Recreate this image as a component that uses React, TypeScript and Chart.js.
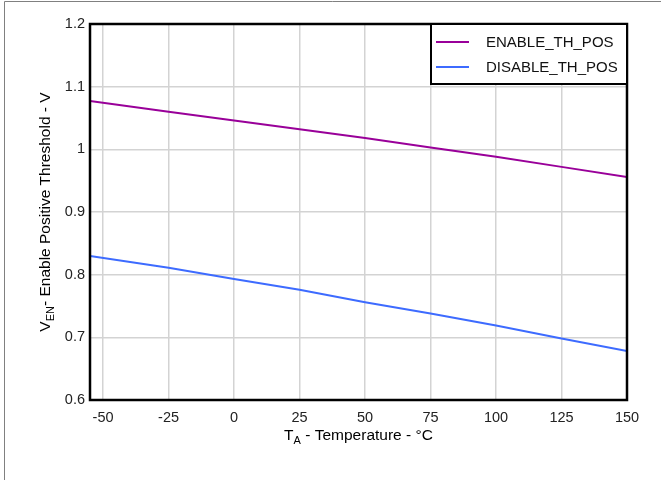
import React, { useEffect, useRef } from "react";
import { Chart, registerables } from "chart.js";

Chart.register(...registerables);

// Threshold voltage vs. ambient temperature
const temperatures = [-55, -25, 0, 25, 50, 75, 100, 125, 150];
const enableThPos = [1.077, 1.06, 1.046, 1.032, 1.018, 1.003, 0.988, 0.972, 0.956];
const disableThPos = [0.83, 0.811, 0.793, 0.776, 0.756, 0.738, 0.719, 0.698, 0.678];

const xTickValues = [-50, -25, 0, 25, 50, 75, 100, 125, 150];
const yTickValues = [0.6, 0.7, 0.8, 0.9, 1.0, 1.1, 1.2];

const seriesLabels = ["ENABLE_TH_POS", "DISABLE_TH_POS"];
const seriesColors = ["#990099", "#3d6bff"];

const FONT_FAMILY = "'Liberation Sans', Arial, sans-serif";

type Part = { text: string; sub?: boolean };

const xTitleParts: Part[] = [
  { text: "T" },
  { text: "A", sub: true },
  { text: " - Temperature - °C" },
];
const yTitleParts: Part[] = [
  { text: "V" },
  { text: "EN", sub: true },
  { text: "- Enable Positive Threshold - V" },
];

function drawRich(
  ctx: CanvasRenderingContext2D,
  parts: Part[],
  cx: number,
  baseline: number
) {
  const mainFont = `15.5px ${FONT_FAMILY}`;
  const subFont = `11px ${FONT_FAMILY}`;
  const widths = parts.map((p) => {
    ctx.font = p.sub ? subFont : mainFont;
    return ctx.measureText(p.text).width;
  });
  const total = widths.reduce((a, b) => a + b, 0);
  let x = cx - total / 2;
  ctx.textAlign = "left";
  ctx.textBaseline = "alphabetic";
  ctx.fillStyle = "#000";
  parts.forEach((p, i) => {
    ctx.font = p.sub ? subFont : mainFont;
    ctx.fillText(p.text, x, baseline + (p.sub ? 4 : 0));
    x += widths[i];
  });
}

const decorations = {
  id: "decorations",
  afterDraw(chart: Chart) {
    const ctx = chart.ctx;
    const area = chart.chartArea;
    ctx.save();

    // outer frame edges
    ctx.strokeStyle = "#808080";
    ctx.lineWidth = 1;
    ctx.beginPath();
    ctx.moveTo(4.5, chart.height);
    ctx.lineTo(4.5, 1.5);
    ctx.lineTo(chart.width, 1.5);
    ctx.stroke();

    // plot frame
    ctx.strokeStyle = "#000";
    ctx.lineWidth = 2.5;
    ctx.strokeRect(area.left, area.top, area.right - area.left, area.bottom - area.top);

    // legend box inside the plot, top right
    const boxW = 196;
    const boxH = 60;
    const bx = area.right - boxW;
    const by = area.top;
    ctx.fillStyle = "#fff";
    ctx.fillRect(bx, by, boxW, boxH);
    ctx.lineWidth = 2;
    ctx.strokeStyle = "#000";
    ctx.strokeRect(bx, by, boxW, boxH);
    chart.data.datasets.forEach((ds, i) => {
      const y = by + 18 + i * 25;
      ctx.strokeStyle = ds.borderColor as string;
      ctx.lineWidth = 2;
      ctx.beginPath();
      ctx.moveTo(bx + 5, y);
      ctx.lineTo(bx + 38, y);
      ctx.stroke();
      ctx.fillStyle = "#111";
      ctx.font = `15px ${FONT_FAMILY}`;
      ctx.textAlign = "left";
      ctx.textBaseline = "middle";
      ctx.fillText(ds.label as string, bx + 55, y + 1);
    });

    // axis titles
    drawRich(ctx, xTitleParts, (area.left + area.right) / 2, 440);
    ctx.translate(50, (area.top + area.bottom) / 2);
    ctx.rotate(-Math.PI / 2);
    drawRich(ctx, yTitleParts, 0, 0);

    ctx.restore();
  },
};

export default function App() {
  const canvasRef = useRef<HTMLCanvasElement | null>(null);

  useEffect(() => {
    if (!canvasRef.current) return;
    const chart = new Chart(canvasRef.current, {
      type: "line",
      data: {
        datasets: [
          {
            label: seriesLabels[0],
            data: temperatures.map((t, i) => ({ x: t, y: enableThPos[i] })),
            borderColor: seriesColors[0],
            borderWidth: 2,
            pointRadius: 0,
            tension: 0,
          },
          {
            label: seriesLabels[1],
            data: temperatures.map((t, i) => ({ x: t, y: disableThPos[i] })),
            borderColor: seriesColors[1],
            borderWidth: 2,
            pointRadius: 0,
            tension: 0,
          },
        ],
      },
      options: {
        animation: false,
        responsive: false,
        layout: { padding: { left: 0, top: 24, right: 34, bottom: 0 } },
        plugins: {
          legend: { display: false },
          tooltip: { enabled: false },
        },
        scales: {
          x: {
            type: "linear",
            min: -55,
            max: 150,
            afterBuildTicks: (scale: any) => {
              scale.ticks = xTickValues.map((v) => ({ value: v }));
            },
            afterFit: (scale: any) => {
              scale.height = 80;
            },
            grid: { color: "#d3d3d3", lineWidth: 1.5, drawTicks: false },
            border: { display: false },
            ticks: {
              padding: 9,
              color: "#222",
              font: { family: FONT_FAMILY, size: 14.5 },
              maxRotation: 0,
              callback: (v: any) => String(v),
            },
          },
          y: {
            type: "linear",
            min: 0.6,
            max: 1.2,
            afterBuildTicks: (scale: any) => {
              scale.ticks = yTickValues.map((v) => ({ value: v }));
            },
            afterFit: (scale: any) => {
              scale.width = 90;
            },
            grid: { color: "#d3d3d3", lineWidth: 1.5, drawTicks: false },
            border: { display: false },
            ticks: {
              padding: 5,
              color: "#222",
              font: { family: FONT_FAMILY, size: 14.5 },
              callback: (v: any) => String(Number(Number(v).toFixed(1))),
            },
          },
        },
      },
      plugins: [decorations],
    });
    return () => chart.destroy();
  }, []);

  return (
    <div style={{ position: "absolute", left: 0, top: 0, width: 661, height: 480, background: "#fff" }}>
      <canvas ref={canvasRef} width={661} height={480} style={{ width: 661, height: 480 }} />
    </div>
  );
}
